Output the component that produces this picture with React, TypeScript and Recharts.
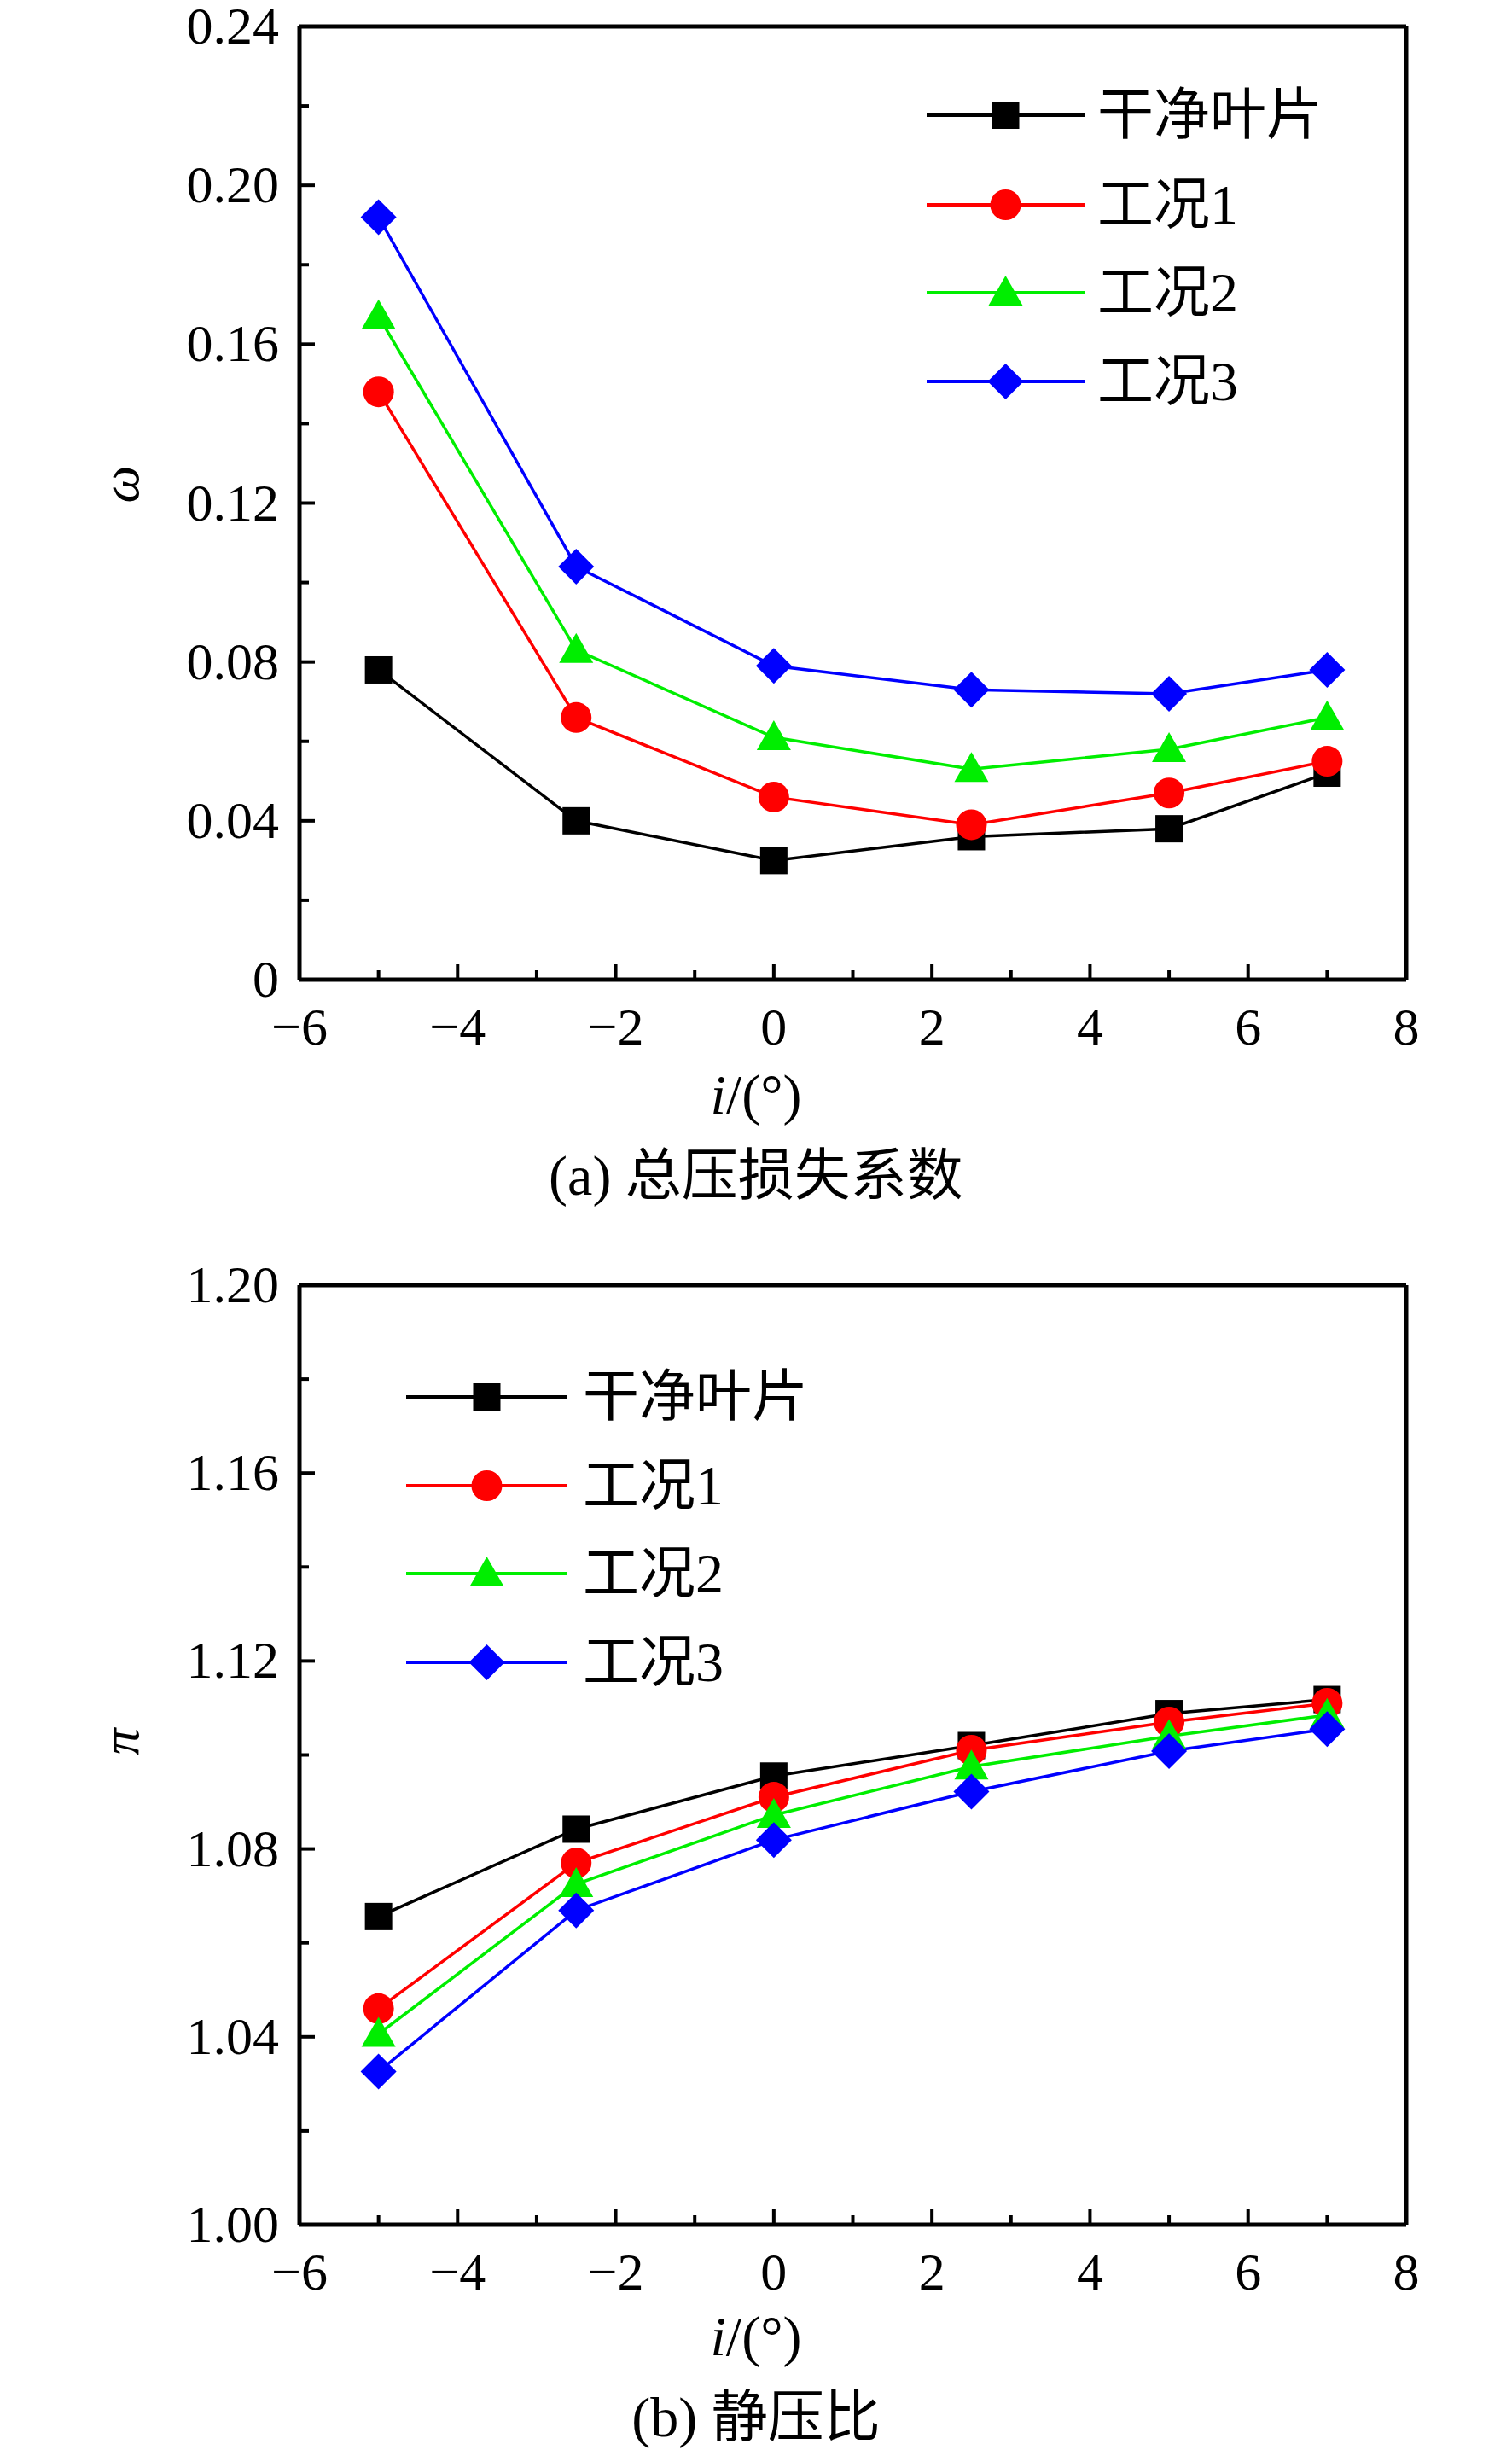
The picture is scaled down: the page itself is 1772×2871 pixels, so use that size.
import React from "react"
import { LineChart, Line, XAxis, YAxis, ReferenceLine } from "recharts"

const incidence = [-5, -2.5, 0, 2.5, 5, 7]
const seriesNames = ["干净叶片", "工况1", "工况2", "工况3"]
const seriesColors = ["#000000", "#ff0000", "#00ee00", "#0000ff"]
const seriesShapes = ["square", "circle", "triangle", "diamond"]

const omegaClean = [0.078, 0.040, 0.030, 0.036, 0.038, 0.052]
const omegaCase1 = [0.148, 0.066, 0.046, 0.039, 0.047, 0.055]
const omegaCase2 = [0.167, 0.083, 0.061, 0.053, 0.058, 0.066]
const omegaCase3 = [0.192, 0.104, 0.079, 0.073, 0.072, 0.078]

const piClean = [1.0656, 1.0842, 1.0955, 1.102, 1.1088, 1.1118]
const piCase1 = [1.046, 1.077, 1.091, 1.101, 1.107, 1.111]
const piCase2 = [1.0406, 1.0725, 1.0872, 1.0975, 1.104, 1.1085]
const piCase3 = [1.0326, 1.0669, 1.0819, 1.0922, 1.1008, 1.1055]

const xTicks = [-6, -5, -4, -3, -2, -1, 0, 1, 2, 3, 4, 5, 6, 7, 8]
const omegaTicks = [0, 0.02, 0.04, 0.06, 0.08, 0.1, 0.12, 0.14, 0.16, 0.18, 0.2, 0.22, 0.24]
const piTicks = [1.0, 1.02, 1.04, 1.06, 1.08, 1.1, 1.12, 1.14, 1.16, 1.18, 1.2]

const serif = "'Liberation Serif', 'Times New Roman', serif"
const cjk = "'Liberation Serif', 'Noto Sans CJK SC', serif"
const FS = 62
const LFS = 66

const buildRows = (s: number[][]) =>
  incidence.map((x, i) => ({ x, s0: s[0][i], s1: s[1][i], s2: s[2][i], s3: s[3][i] }))

const minus = (t: string) => t.replace("-", "\u2212")

function Marker({ shape, cx, cy, color }: any) {
  if (shape === "square") return <rect x={cx - 16} y={cy - 16} width={32} height={32} fill={color} />
  if (shape === "circle") return <circle cx={cx} cy={cy} r={18} fill={color} />
  if (shape === "triangle")
    return <polygon points={`${cx},${cy - 20} ${cx + 20},${cy + 15} ${cx - 20},${cy + 15}`} fill={color} />
  return <polygon points={`${cx},${cy - 21} ${cx + 21},${cy} ${cx},${cy + 21} ${cx - 21},${cy}`} fill={color} />
}

const dotFor = (k: number) => (p: any) =>
  p.cx == null ? <g key={p.index} /> : (
    <g key={p.index}><Marker shape={seriesShapes[k]} cx={p.cx} cy={p.cy} color={seriesColors[k]} /></g>
  )

const XTick = (p: any) => {
  const v = p.payload.value
  const major = v % 2 === 0
  return (
    <g>
      <line x1={p.x} y1={p.y} x2={p.x} y2={p.y - (major ? 18 : 11)} stroke="#000" strokeWidth={4} />
      {major && (
        <text x={p.x} y={p.y + 76} textAnchor="middle" fontSize={FS} fontFamily={serif}>{minus(String(v))}</text>
      )}
    </g>
  )
}

const makeYTick = (step: number, base: number, fmt: (v: number) => string) => (p: any) => {
  const v = p.payload.value
  const major = Math.abs(Math.round((v - base) / step) * step - (v - base)) < 1e-6
  return (
    <g>
      <line x1={p.x} y1={p.y} x2={p.x + (major ? 18 : 11)} y2={p.y} stroke="#000" strokeWidth={4} />
      {major && (
        <text x={p.x - 24} y={p.y + 20} textAnchor="end" fontSize={FS} fontFamily={serif}>{fmt(v)}</text>
      )}
    </g>
  )
}

function LegendBox({ left, top, lineX1, lineX2, textX, rows }: any) {
  return (
    <svg style={{ position: "absolute", left, top, overflow: "visible" }} width={600} height={400}>
      {seriesNames.map((n, k) => {
        const y = rows[k]
        const mx = (lineX1 + lineX2) / 2
        return (
          <g key={n}>
            <line x1={lineX1} x2={lineX2} y1={y} y2={y} stroke={seriesColors[k]} strokeWidth={4} />
            <Marker shape={seriesShapes[k]} cx={mx} cy={y} color={seriesColors[k]} />
            <text x={textX} y={y + 22} fontSize={LFS} fontFamily={cjk}>{n}</text>
          </g>
        )
      })}
    </svg>
  )
}

function Panel({ data, domain, ticks, yTick, yLabel, marginTop, height }: any) {
  return (
    <LineChart width={1772} height={height} data={data} margin={{ top: marginTop, right: 124, left: 0, bottom: 0 }}>
      <XAxis dataKey="x" type="number" domain={[-6, 8]} ticks={xTicks} interval={0} tickSize={0} tickMargin={0}
        tickLine={false} tick={<XTick />} stroke="#000" strokeWidth={5} height={150} allowDataOverflow />
      <YAxis type="number" domain={domain} ticks={ticks} interval={0} tickSize={0} tickMargin={0} tickLine={false}
        tick={yTick} stroke="#000" strokeWidth={5} width={351} allowDataOverflow
        label={{ value: yLabel, angle: -90, position: "insideLeft", offset: 140, fontSize: FS, fontStyle: "italic", fontFamily: serif, fill: "#000" }} />
      <ReferenceLine y={domain[1]} stroke="#000" strokeWidth={5} ifOverflow="visible" />
      <ReferenceLine x={8} stroke="#000" strokeWidth={5} ifOverflow="visible" />
      {[0, 1, 2, 3].map((k) => (
        <Line key={k} dataKey={`s${k}`} stroke={seriesColors[k]} strokeWidth={3.5} dot={dotFor(k)}
          isAnimationActive={false} type="linear" />
      ))}
    </LineChart>
  )
}

const captionStyle = (top: number): React.CSSProperties => ({
  position: "absolute", left: 0, width: 1772, top, textAlign: "center", fontSize: LFS, fontFamily: cjk, lineHeight: 1,
})

export default function App() {
  const top = buildRows([omegaClean, omegaCase1, omegaCase2, omegaCase3])
  const bottom = buildRows([piClean, piCase1, piCase2, piCase3])
  return (
    <div style={{ position: "relative", width: 1772, height: 2871, background: "#fff" }}>
      <style>{"body{margin:0}"}</style>
      <div style={{ position: "absolute", left: 0, top: 0 }}>
        <Panel data={top} domain={[0, 0.24]} ticks={omegaTicks} yLabel="ω" marginTop={31} height={1298}
          yTick={makeYTick(0.04, 0, (v: number) => (v === 0 ? "0" : v.toFixed(2)))} />
      </div>
      <div style={captionStyle(1250)}><i>i</i>/(°)</div>
      <div style={captionStyle(1345)}>(a) 总压损失系数</div>
      <div style={{ position: "absolute", left: 0, top: 1469 }}>
        <Panel data={bottom} domain={[1.0, 1.2]} ticks={piTicks} yLabel="π" marginTop={37} height={1288}
          yTick={makeYTick(0.04, 1.0, (v: number) => v.toFixed(2))} />
      </div>
      <div style={captionStyle(2705)}><i>i</i>/(°)</div>
      <div style={captionStyle(2800)}>(b) 静压比</div>
      <LegendBox left={0} top={0} lineX1={1086} lineX2={1271} textX={1286} rows={[135, 240, 343, 447]} />
      <LegendBox left={0} top={1469} lineX1={476} lineX2={665} textX={683} rows={[168, 272, 375, 479]} />
    </div>
  )
}
